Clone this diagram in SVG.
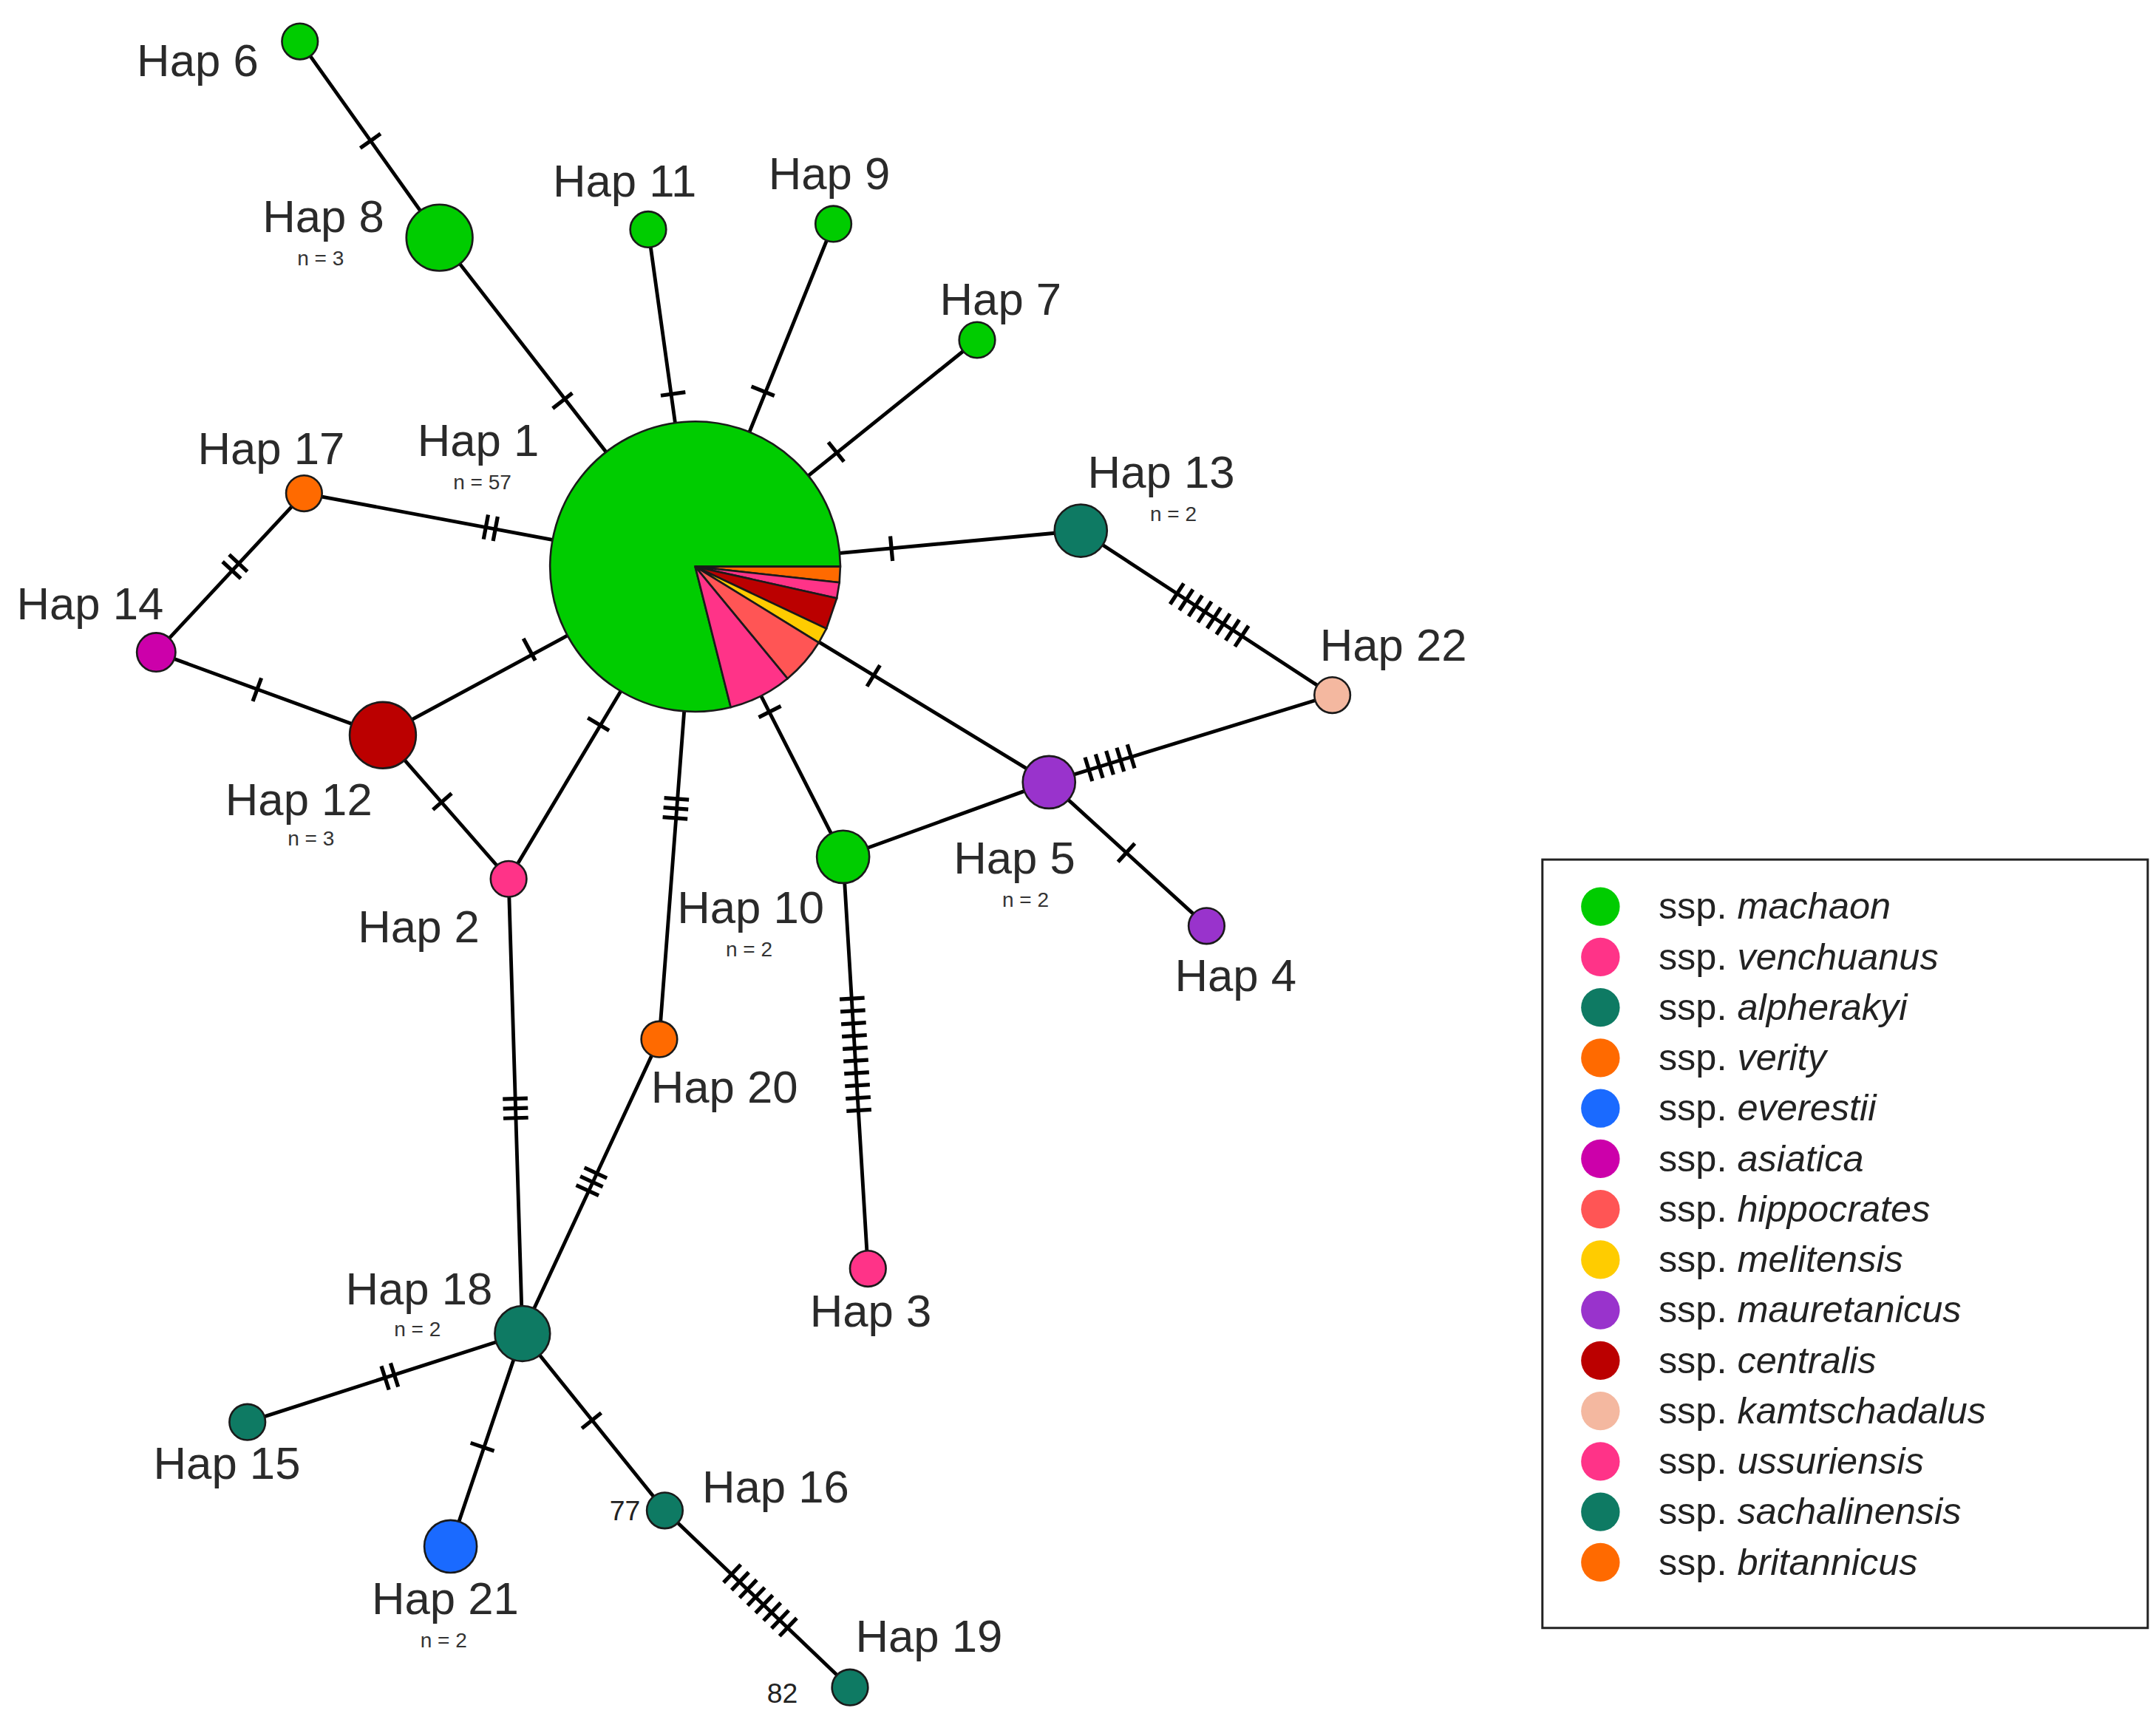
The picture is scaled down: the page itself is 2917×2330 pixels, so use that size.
<svg xmlns="http://www.w3.org/2000/svg" width="2917" height="2330" viewBox="0 0 2917 2330">
<style>
.e{stroke:#000;stroke-width:2.6;fill:none}
.n{stroke:#1a1a1a;stroke-width:1.4}
.l{font-family:"Liberation Sans",Arial,sans-serif;font-size:33px;fill:#2a2a2a}
.s{font-family:"Liberation Sans",Arial,sans-serif;font-size:15px;fill:#333;text-anchor:middle}
.g{font-family:"Liberation Sans",Arial,sans-serif;font-size:27px;fill:#222}
.m{fill:#00cc00}.pk{fill:#ff3388}.tl{fill:#0e7a63}.or{fill:#ff6a00}.bl{fill:#1a6aff}.mg{fill:#cc00aa}.hp{fill:#ff5555}.ye{fill:#ffcc00}.pu{fill:#9933cc}.dr{fill:#bb0000}.pe{fill:#f4b8a0}
</style>
<defs>
<path id="t1" stroke="#000" stroke-width="2.8" d="M0,-9V9"/>
<path id="t2" stroke="#000" stroke-width="2.8" d="M-3.5,-9V9M3.5,-9V9"/>
<path id="t3" stroke="#000" stroke-width="2.8" d="M-7,-9V9M0,-9V9M7,-9V9"/>
<path id="t5" stroke="#000" stroke-width="2.8" d="M-16,-9V9M-8,-9V9M0,-9V9M8,-9V9M16,-9V9"/>
<path id="t8" stroke="#000" stroke-width="2.8" d="M-28,-9V9M-20,-9V9M-12,-9V9M-4,-9V9M4,-9V9M12,-9V9M20,-9V9M28,-9V9"/>
<path id="t10" stroke="#000" stroke-width="2.8" d="M-40.5,-9V9M-31.5,-9V9M-22.5,-9V9M-13.5,-9V9M-4.5,-9V9M4.5,-9V9M13.5,-9V9M22.5,-9V9M31.5,-9V9M40.5,-9V9"/>
</defs>
<rect width="2917" height="2330" fill="#fff"/>
<g transform="scale(1.8699)">
<g id="connectors">
<path class="e" d="M318,172L503,410 M217,30L318,172 M469,166L503,410 M603,162L503,410 M707,246L503,410 M220,357L503,410 M220,357L113,472 M113,472L277,532 M277,532L503,410 M277,532L368,636 M368,636L503,410 M503,410L782,384 M782,384L964,503 M964,503L759,566 M503,410L759,566 M759,566L873,670 M759,566L610,620 M503,410L610,620 M610,620L628,918 M503,410L477,752 M368,636L378,965 M477,752L378,965 M378,965L179,1029 M378,965L326,1119 M378,965L481,1093 M481,1093L615,1221"/>
<use href="#t1" transform="translate(407,290) rotate(52.1)"/>
<use href="#t1" transform="translate(268,102) rotate(54.6)"/>
<use href="#t1" transform="translate(487,285) rotate(82.1)"/>
<use href="#t1" transform="translate(552,283) rotate(112)"/>
<use href="#t1" transform="translate(605,327) rotate(141.2)"/>
<use href="#t2" transform="translate(355,382) rotate(10.6)"/>
<use href="#t2" transform="translate(170,410) rotate(132.9)"/>
<use href="#t1" transform="translate(186,499) rotate(20.1)"/>
<use href="#t1" transform="translate(383,470) rotate(-28.4)"/>
<use href="#t1" transform="translate(320,580) rotate(48.8)"/>
<use href="#t1" transform="translate(433,524) rotate(-59.1)"/>
<use href="#t1" transform="translate(645,397) rotate(-5.3)"/>
<use href="#t8" transform="translate(875,445) rotate(33.2)"/>
<use href="#t5" transform="translate(803,552) rotate(163)"/>
<use href="#t1" transform="translate(632,489) rotate(31.4)"/>
<use href="#t1" transform="translate(815,617) rotate(42.4)"/>
<use href="#t1" transform="translate(557,515) rotate(63)"/>
<use href="#t10" transform="translate(619,763) rotate(86.5)"/>
<use href="#t3" transform="translate(489,585) rotate(94.3)"/>
<use href="#t3" transform="translate(373,802) rotate(88.3)"/>
<use href="#t3" transform="translate(428,855) rotate(115)"/>
<use href="#t2" transform="translate(282,996) rotate(162.2)"/>
<use href="#t1" transform="translate(349,1047) rotate(108.7)"/>
<use href="#t1" transform="translate(428,1028) rotate(51.2)"/>
<use href="#t8" transform="translate(550,1158) rotate(43.7)"/>
</g>
<g id="hap1">
<path class="n m" d="M503,410L528.76,511.79A105,105 0 1 1 608,410Z"/>
<path class="n or" d="M503,410L608,410L607.37,421.52Z"/>
<path class="n pk" d="M503,410L607.37,421.52L605.47,432.9Z"/>
<path class="n dr" d="M503,410L605.47,432.9L597.93,454.88Z"/>
<path class="n ye" d="M503,410L597.93,454.88L592.43,465.02Z"/>
<path class="n hp" d="M503,410L592.43,465.02A105,105 0 0 1 569.79,491.02Z"/>
<path class="n pk" d="M503,410L569.79,491.02A105,105 0 0 1 528.76,511.79Z"/>
<text class="l" x="302" y="330">Hap 1</text><text class="s" x="349" y="354">n = 57</text>
</g>
<g id="hap6"><circle class="n m" cx="217" cy="30" r="13"/><text class="l" x="99" y="55">Hap 6</text></g>
<g id="hap8"><circle class="n m" cx="318" cy="172" r="24"/><text class="l" x="190" y="168">Hap 8</text><text class="s" x="232" y="192">n = 3</text></g>
<g id="hap11"><circle class="n m" cx="469" cy="166" r="13"/><text class="l" x="400" y="142">Hap 11</text></g>
<g id="hap9"><circle class="n m" cx="603" cy="162" r="13"/><text class="l" x="556" y="137">Hap 9</text></g>
<g id="hap7"><circle class="n m" cx="707" cy="246" r="13"/><text class="l" x="680" y="228">Hap 7</text></g>
<g id="hap17"><circle class="n or" cx="220" cy="357" r="13"/><text class="l" x="143" y="336">Hap 17</text></g>
<g id="hap14"><circle class="n mg" cx="113" cy="472" r="14"/><text class="l" x="12" y="448">Hap 14</text></g>
<g id="hap12"><circle class="n dr" cx="277" cy="532" r="24"/><text class="l" x="163" y="590">Hap 12</text><text class="s" x="225" y="612">n = 3</text></g>
<g id="hap2"><circle class="n pk" cx="368" cy="636" r="13"/><text class="l" x="259" y="682">Hap 2</text></g>
<g id="hap13"><circle class="n tl" cx="782" cy="384" r="19"/><text class="l" x="787" y="353">Hap 13</text><text class="s" x="849" y="377">n = 2</text></g>
<g id="hap22"><circle class="n pe" cx="964" cy="503" r="13"/><text class="l" x="955" y="478">Hap 22</text></g>
<g id="hap5"><circle class="n pu" cx="759" cy="566" r="19"/><text class="l" x="690" y="632">Hap 5</text><text class="s" x="742" y="656">n = 2</text></g>
<g id="hap4"><circle class="n pu" cx="873" cy="670" r="13"/><text class="l" x="850" y="717">Hap 4</text></g>
<g id="hap10"><circle class="n m" cx="610" cy="620" r="19"/><text class="l" x="490" y="668">Hap 10</text><text class="s" x="542" y="692">n = 2</text></g>
<g id="hap3"><circle class="n pk" cx="628" cy="918" r="13"/><text class="l" x="586" y="960">Hap 3</text></g>
<g id="hap20"><circle class="n or" cx="477" cy="752" r="13"/><text class="l" x="471" y="798">Hap 20</text></g>
<g id="hap18"><circle class="n tl" cx="378" cy="965" r="20"/><text class="l" x="250" y="944">Hap 18</text><text class="s" x="302" y="967">n = 2</text></g>
<g id="hap15"><circle class="n tl" cx="179" cy="1029" r="13"/><text class="l" x="111" y="1070">Hap 15</text></g>
<g id="hap21"><circle class="n bl" cx="326" cy="1119" r="19"/><text class="l" x="269" y="1168">Hap 21</text><text class="s" x="321" y="1192">n = 2</text></g>
<g id="hap16"><circle class="n tl" cx="481" cy="1093" r="13"/><text class="l" x="508" y="1087">Hap 16</text><text class="g" x="441" y="1100" style="font-size:20px">77</text></g>
<g id="hap19"><circle class="n tl" cx="615" cy="1221" r="13"/><text class="l" x="619" y="1195">Hap 19</text><text class="g" x="555" y="1232" style="font-size:20px">82</text></g>
<g id="legend">
<rect x="1116" y="622" width="438" height="556" fill="#fff" stroke="#222" stroke-width="1.6"/>
<circle class="m" cx="1158" cy="656" r="14"/><text class="g" x="1200" y="665">ssp. <tspan font-style="italic">machaon</tspan></text>
<circle class="pk" cx="1158" cy="692.5" r="14"/><text class="g" x="1200" y="701.5">ssp. <tspan font-style="italic">venchuanus</tspan></text>
<circle class="tl" cx="1158" cy="729" r="14"/><text class="g" x="1200" y="738">ssp. <tspan font-style="italic">alpherakyi</tspan></text>
<circle class="or" cx="1158" cy="765.5" r="14"/><text class="g" x="1200" y="774.5">ssp. <tspan font-style="italic">verity</tspan></text>
<circle class="bl" cx="1158" cy="802" r="14"/><text class="g" x="1200" y="811">ssp. <tspan font-style="italic">everestii</tspan></text>
<circle class="mg" cx="1158" cy="838.5" r="14"/><text class="g" x="1200" y="847.5">ssp. <tspan font-style="italic">asiatica</tspan></text>
<circle class="hp" cx="1158" cy="875" r="14"/><text class="g" x="1200" y="884">ssp. <tspan font-style="italic">hippocrates</tspan></text>
<circle class="ye" cx="1158" cy="911.5" r="14"/><text class="g" x="1200" y="920.5">ssp. <tspan font-style="italic">melitensis</tspan></text>
<circle class="pu" cx="1158" cy="948" r="14"/><text class="g" x="1200" y="957">ssp. <tspan font-style="italic">mauretanicus</tspan></text>
<circle class="dr" cx="1158" cy="984.5" r="14"/><text class="g" x="1200" y="993.5">ssp. <tspan font-style="italic">centralis</tspan></text>
<circle class="pe" cx="1158" cy="1021" r="14"/><text class="g" x="1200" y="1030">ssp. <tspan font-style="italic">kamtschadalus</tspan></text>
<circle class="pk" cx="1158" cy="1057.5" r="14"/><text class="g" x="1200" y="1066.5">ssp. <tspan font-style="italic">ussuriensis</tspan></text>
<circle class="tl" cx="1158" cy="1094" r="14"/><text class="g" x="1200" y="1103">ssp. <tspan font-style="italic">sachalinensis</tspan></text>
<circle class="or" cx="1158" cy="1130.5" r="14"/><text class="g" x="1200" y="1139.5">ssp. <tspan font-style="italic">britannicus</tspan></text>
</g>
</g>
</svg>
